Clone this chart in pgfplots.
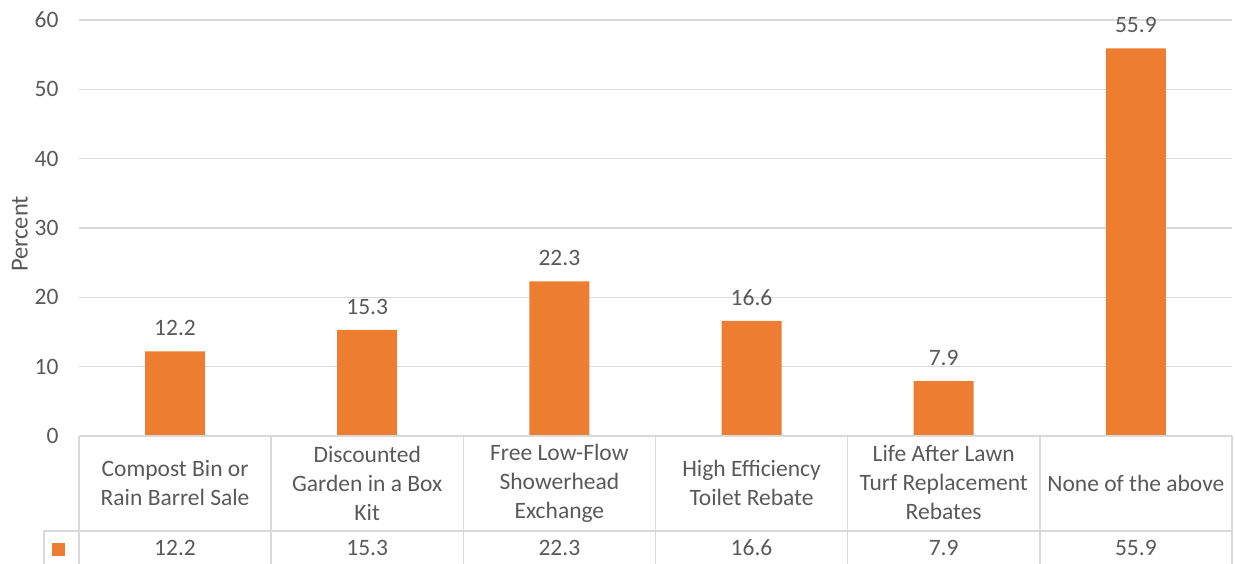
\documentclass[border=0pt]{standalone}
\usepackage{pgfplots}
\pgfplotsset{compat=1.18}
\usepackage{pgfplotstable}
\usepackage{fontspec}
\setmainfont{Carlito}
\definecolor{barorange}{HTML}{ED7D31}
\definecolor{txtgray}{HTML}{595959}
\definecolor{gridgray}{HTML}{D9D9D9}
\pgfplotstableread{
x v
0 12.2
1 15.3
2 22.3
3 16.6
4 7.9
5 55.9
}\datatable
\begin{document}
\begin{tikzpicture}[font=\fontsize{23.5}{29}\selectfont]
\path[use as bounding box] (-79pt,-128pt) rectangle (1156pt,436pt);
\begin{axis}[
  at={(0,0)}, anchor=south west,
  scale only axis,
  width=1153pt, height=416pt,
  xmin=-0.5, xmax=5.5,
  ymin=0, ymax=60,
  ytick={0,10,...,60},
  xtick={0,...,5},
  xticklabels={{Compost Bin or\\Rain Barrel Sale},{Discounted\\Garden in a Box\\Kit},{Free Low-Flow\\Showerhead\\Exchange},{High Efficiency\\Toilet Rebate},{Life After Lawn\\Turf Replacement\\Rebates},{None of the above}},
  xticklabel style={align=center, anchor=center, yshift=-47pt},
  yticklabel style={xshift=-17pt},
  tick label style={text=txtgray},
  major tick length=0,
  ymajorgrids,
  grid style={gridgray, line width=1.6pt},
  axis line style={draw=none},
  clip=false,
  /pgf/number format/assume math mode=true,
  /pgf/number format/fixed, /pgf/number format/precision=1,
  ylabel={Percent},
  ylabel style={at={(axis description cs:-0.0512,0.4856)}, anchor=center, text=txtgray, font=\fontsize{24.5}{29}\selectfont},
]
\addplot[ybar, bar width=60pt, fill=barorange, draw=none,
  nodes near coords, nodes near coords style={text=txtgray, yshift=12pt}]
  table[x=x, y=v] {\datatable};
\addplot[draw=none, mark=none, nodes near coords, point meta=explicit,
  nodes near coords style={anchor=center, text=txtgray}]
  table[x=x, y expr=-16.15, meta=v] {\datatable};
\end{axis}
\begin{scope}[gridgray, line width=1.6pt]
\draw (0,0) -- (1153pt,0);
\foreach \k in {0,...,6} \draw (\k*192.1667pt,0) -- (\k*192.1667pt,-140pt);
\draw (-35pt,-95pt) -- (1153pt,-95pt);
\draw (-35pt,-95pt) -- (-35pt,-140pt);
\end{scope}
\fill[barorange] (-26.5pt,-120.5pt) rectangle (-13.5pt,-107.5pt);
\end{tikzpicture}
\end{document}
